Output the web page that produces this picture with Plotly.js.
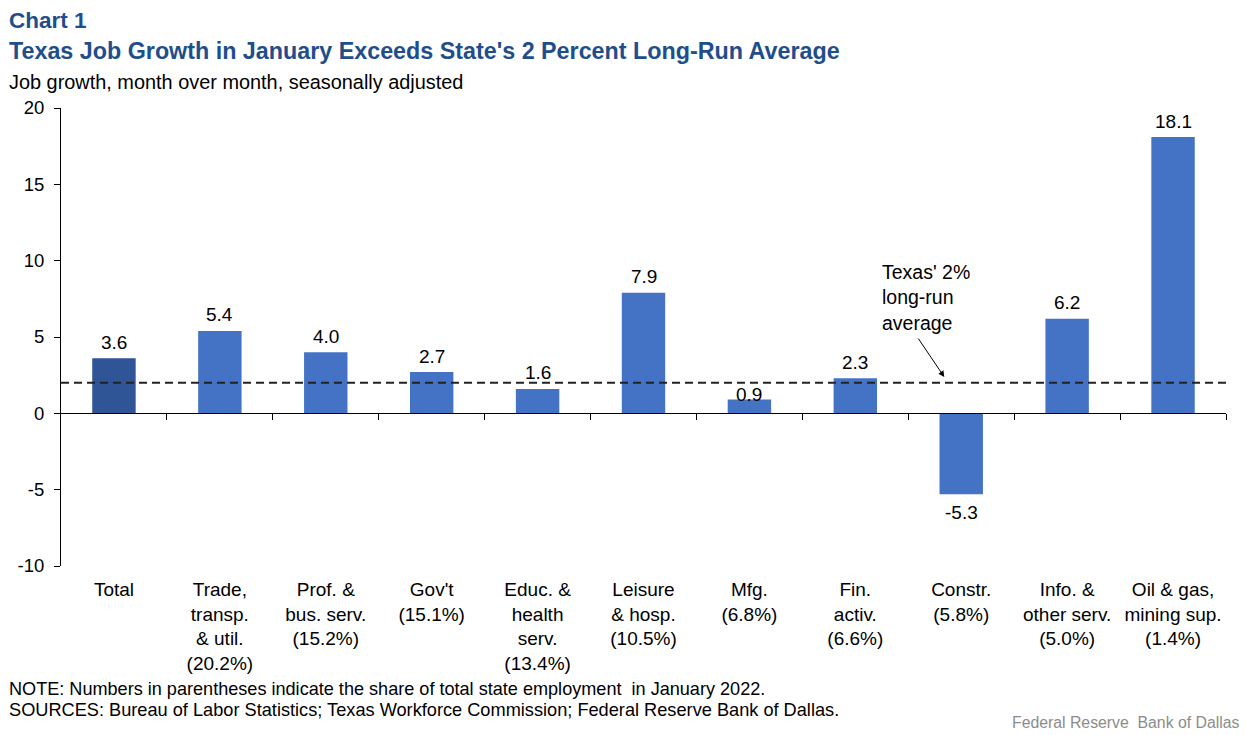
<!DOCTYPE html>
<html>
<head>
<meta charset="utf-8">
<script src="https://cdn.plot.ly/plotly-3.0.1.min.js"></script>
<style>html,body{margin:0;padding:0;background:#fff;}#chart{width:1246px;height:735px;}</style>
</head>
<body>
<div id="chart"></div>
<script>
const categories = [
  "Total",
  "Trade,<br>transp.<br>& util.<br>(20.2%)",
  "Prof. &<br>bus. serv.<br>(15.2%)",
  "Gov't<br>(15.1%)",
  "Educ. &<br>health<br>serv.<br>(13.4%)",
  "Leisure<br>& hosp.<br>(10.5%)",
  "Mfg.<br>(6.8%)",
  "Fin.<br>activ.<br>(6.6%)",
  "Constr.<br>(5.8%)",
  "Info. &<br>other serv.<br>(5.0%)",
  "Oil & gas,<br>mining sup.<br>(1.4%)"
];
const jobGrowth = [3.6, 5.4, 4.0, 2.7, 1.6, 7.9, 0.9, 2.3, -5.3, 6.2, 18.1];
const longRunAverage = 2;
const yTickValues = [-10, -5, 0, 5, 10, 15, 20];

const FONT = '"Liberation Sans", Arial, sans-serif';
const W = 1246, H = 735;
const M = {l: 61, r: 20, t: 108, b: 169};
const PW = W - M.l - M.r, PH = H - M.t - M.b;
const px = x => (x - M.l) / PW;
const py = y => (H - M.b - y) / PH;

const n = categories.length;
const idx = categories.map((_, i) => i);
const boundaries = idx.map(i => i + 0.5);

const barColors = jobGrowth.map((_, i) => i === 0 ? '#2F5597' : '#4472C4');

const traces = [
  {
    type: 'bar',
    x: idx,
    y: jobGrowth,
    marker: {color: barColors},
    hoverinfo: 'skip',
    xaxis: 'x', yaxis: 'y'
  },
  {
    type: 'scatter',
    mode: 'lines',
    x: [-0.5, n - 0.5],
    y: [longRunAverage, longRunAverage],
    line: {color: '#222', width: 2, dash: '8px,5px'},
    hoverinfo: 'skip',
    xaxis: 'x2', yaxis: 'y'
  }
];

// labels sit above positive bars / below negative bars; a label on a bar
// well below the long-run-average line is tucked in closer to its bar
const valueLabels = jobGrowth.map((v, i) => {
  const tucked = v >= 0 && v < longRunAverage - 0.8;
  return {
    xref: 'x', yref: 'y', x: i, y: v,
    text: v.toFixed(1),
    showarrow: false,
    xanchor: 'center',
    yanchor: v >= 0 ? 'bottom' : 'top',
    yshift: v >= 0 ? (tucked ? -7 : 3.5) : -6,
    font: {family: FONT, size: 19, color: '#000'}
  };
});

const layout = {
  width: W, height: H,
  margin: M,
  paper_bgcolor: '#fff', plot_bgcolor: '#fff',
  showlegend: false,
  bargap: 0.59,
  font: {family: FONT, size: 19, color: '#000'},
  xaxis: {
    type: 'linear',
    range: [-0.5, n - 0.5],
    tickmode: 'array',
    tickvals: idx,
    ticktext: categories,
    ticks: '',
    showline: false,
    showgrid: false,
    zeroline: false,
    tickfont: {family: FONT, size: 19, color: '#000'},
    ticklabelstandoff: 10
  },
  xaxis2: {
    type: 'linear',
    overlaying: 'x',
    anchor: 'free',
    position: (0 - (-10)) / 30,
    range: [-0.5, n - 0.5],
    tickmode: 'array',
    tickvals: boundaries,
    ticks: 'outside',
    ticklen: 6,
    tickcolor: '#000',
    showticklabels: false,
    showline: true,
    linecolor: '#000',
    linewidth: 1,
    showgrid: false,
    zeroline: false
  },
  yaxis: {
    range: [-10, 20],
    tickmode: 'array',
    tickvals: yTickValues,
    ticktext: yTickValues.map(String),
    ticks: 'outside',
    ticklen: 6,
    tickcolor: '#000',
    showline: true,
    linecolor: '#000',
    linewidth: 1,
    showgrid: false,
    zeroline: false,
    tickfont: {family: FONT, size: 18.5, color: '#000'},
    ticklabelstandoff: 6
  },
  annotations: valueLabels.concat([
    {xref: 'paper', yref: 'paper', x: px(7), y: py(21), xanchor: 'left', yanchor: 'middle',
     text: '<b>Chart 1</b>', showarrow: false, font: {family: FONT, size: 22.5, color: '#1F4E8C'}},
    {xref: 'paper', yref: 'paper', x: px(7), y: py(51), xanchor: 'left', yanchor: 'middle',
     text: "<b>Texas Job Growth in January Exceeds State's 2 Percent Long-Run Average</b>", showarrow: false,
     font: {family: FONT, size: 23.3, color: '#1F4E8C'}},
    {xref: 'paper', yref: 'paper', x: px(7), y: py(82), xanchor: 'left', yanchor: 'middle',
     text: 'Job growth, month over month, seasonally adjusted', showarrow: false,
     font: {family: FONT, size: 19.9, color: '#000'}},
    {xref: 'x', yref: 'y', x: 7.23, y: 7.6, xanchor: 'left', yanchor: 'middle', align: 'left',
     text: "Texas' 2%<br>long-run<br>average", showarrow: false,
     font: {family: FONT, size: 19.5, color: '#000'}},
    {xref: 'x', yref: 'y', x: 7.84, y: 2.38, ax: -27, ay: -40, text: '', showarrow: true,
     arrowhead: 2, arrowsize: 1.2, arrowwidth: 1, arrowcolor: '#000'},
    {xref: 'paper', yref: 'paper', x: px(7), y: py(689), xanchor: 'left', yanchor: 'middle',
     text: 'NOTE: Numbers in parentheses indicate the share of total state employment  in January 2022.', showarrow: false,
     font: {family: FONT, size: 18.1, color: '#000'}},
    {xref: 'paper', yref: 'paper', x: px(7), y: py(710), xanchor: 'left', yanchor: 'middle',
     text: 'SOURCES: Bureau of Labor Statistics; Texas Workforce Commission; Federal Reserve Bank of Dallas.', showarrow: false,
     font: {family: FONT, size: 18.2, color: '#000'}},
    {xref: 'paper', yref: 'paper', x: px(1242), y: py(722), xanchor: 'right', yanchor: 'middle',
     text: 'Federal Reserve  Bank of Dallas', showarrow: false,
     font: {family: FONT, size: 15.8, color: '#8c8c8c'}}
  ])
};

Plotly.newPlot('chart', traces, layout, {displayModeBar: false, staticPlot: true});
</script>
</body>
</html>
